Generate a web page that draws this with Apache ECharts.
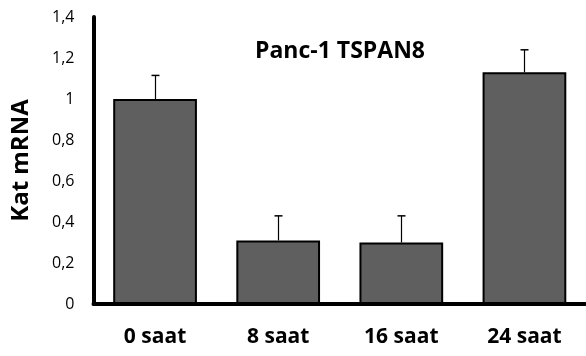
<!DOCTYPE html>
<html>
<head>
<meta charset="utf-8">
<script src="https://cdn.jsdelivr.net/npm/echarts@6/dist/echarts.min.js"></script>
<style>
  html, body { margin: 0; padding: 0; background: #fff; }
  #chart { width: 586px; height: 356px; }
</style>
</head>
<body>
<div id="chart"></div>
<script>
// 数据
var categories = ['0 saat', '8 saat', '16 saat', '24 saat'];
var meanValues = [1.0, 0.31, 0.30, 1.13];
var errorTops = [1.115, 0.43, 0.43, 1.24];

var chart = echarts.init(document.getElementById('chart'));

var option = {
  animation: false,
  title: {
    text: 'Panc-1 TSPAN8',
    left: 335,
    top: 35,
    textAlign: 'center',
    textStyle: {
      fontFamily: 'Open Sans',
      fontWeight: 'bold',
      fontSize: 23,
      color: '#000'
    }
  },
  grid: {
    left: 93.5,
    right: -12,
    top: 17,
    bottom: 52
  },
  xAxis: {
    type: 'category',
    data: categories,
    axisLine: { lineStyle: { color: '#000', width: 4 } },
    axisTick: { show: false },
    axisLabel: {
      margin: 23,
      fontFamily: 'Open Sans',
      fontWeight: 'bold',
      fontSize: 21,
      color: '#000'
    }
  },
  yAxis: {
    type: 'value',
    min: 0,
    max: 1.4,
    interval: 0.2,
    name: 'Kat mRNA',
    nameLocation: 'middle',
    nameRotate: 90,
    nameGap: 60,
    nameTextStyle: {
      fontFamily: 'Open Sans',
      fontWeight: 'bold',
      fontSize: 24,
      color: '#000'
    },
    axisLine: { show: true, lineStyle: { color: '#000', width: 4 } },
    axisTick: { show: false },
    splitLine: { show: false },
    axisLabel: {
      margin: 19,
      fontFamily: 'Open Sans',
      fontSize: 16,
      color: '#000',
      formatter: function (v) {
        return String(Math.round(v * 10) / 10).replace('.', ',');
      }
    }
  },
  series: [
    {
      type: 'bar',
      data: meanValues,
      barWidth: '68%',
      itemStyle: {
        color: '#5f5f5f',
        borderColor: '#000',
        borderWidth: 2
      },
      z: 2
    },
    {
      type: 'custom',
      z: 3,
      data: categories.map(function (c, i) { return [i, meanValues[i], errorTops[i]]; }),
      renderItem: function (params, api) {
        var base = api.coord([api.value(0), api.value(1)]);
        var top = api.coord([api.value(0), api.value(2)]);
        var x = Math.round(base[0]) + 0.5;
        return {
          type: 'group',
          children: [
            {
              type: 'line',
              shape: { x1: x, y1: base[1], x2: x, y2: top[1] },
              style: { stroke: '#000', lineWidth: 1.2 }
            },
            {
              type: 'line',
              shape: { x1: x - 4, y1: top[1], x2: x + 4, y2: top[1] },
              style: { stroke: '#000', lineWidth: 1.5 }
            }
          ]
        };
      }
    }
  ]
};

chart.setOption(option);
</script>
</body>
</html>
